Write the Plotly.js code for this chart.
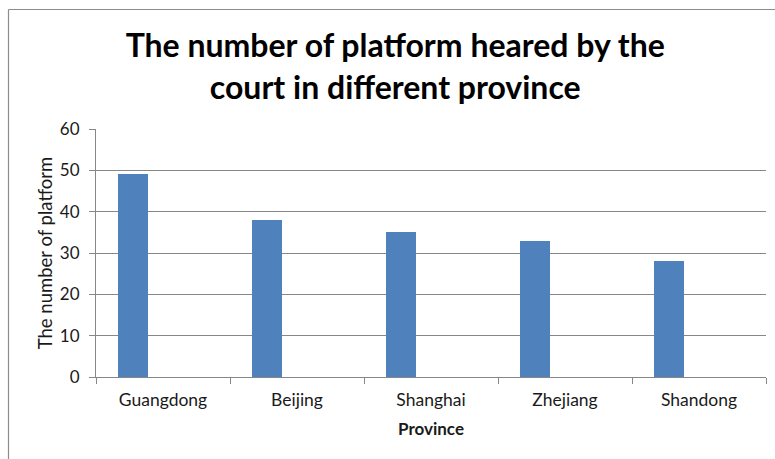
<!DOCTYPE html>
<html>
<head>
<meta charset="utf-8">
<script src="https://cdn.plot.ly/plotly-3.0.1.min.js"></script>
<style>
  html, body { margin: 0; padding: 0; background: #ffffff; }
  #chart { width: 775px; height: 459px; }
</style>
</head>
<body>
<div id="chart"></div>
<script>
const provinces = ["Guangdong", "Beijing", "Shanghai", "Zhejiang", "Shandong"];
const platformCounts = [49, 38, 35, 33, 28];
const yTickValues = [0, 10, 20, 30, 40, 50, 60];

const W = 775, H = 459;
const margin = { l: 96, r: 9, t: 129, b: 82 };
const pw = W - margin.l - margin.r;
const ph = H - margin.t - margin.b;
const px2x = p => (p - margin.l) / pw;
const py2y = p => (H - margin.b - p) / ph;

const trace = {
  type: "bar",
  x: provinces,
  y: platformCounts,
  width: 0.2222,
  offset: -0.3333,
  marker: { color: "#4F81BD", line: { width: 0 } },
  hoverinfo: "x+y"
};

const gridColor = "#878787";
const font = "Lato, 'Open Sans', sans-serif";

const layout = {
  width: W,
  height: H,
  margin: margin,
  paper_bgcolor: "#ffffff",
  plot_bgcolor: "#ffffff",
  showlegend: false,
  bargap: 0,
  title: {
    text: "The number of platform heared by the<br>court in different province",
    font: { family: font, size: 32, color: "#000000", weight: "bold" },
    x: 0.51,
    xanchor: "center",
    y: 1 - 57 / H,
    yanchor: "bottom",
    yref: "container"
  },
  xaxis: {
    type: "category",
    range: [-0.5, 4.5],
    showgrid: false,
    showline: true,
    linecolor: gridColor,
    linewidth: 1,
    ticks: "outside",
    tickson: "boundaries",
    ticklen: 6,
    tickcolor: gridColor,
    ticklabelstandoff: 7,
    tickfont: { family: font, size: 17.5, color: "#1a1a1a" },
    title: {
      text: "Province",
      font: { family: font, size: 17, color: "#1a1a1a", weight: "bold" },
      standoff: 14
    },
    fixedrange: true
  },
  yaxis: {
    range: [0, 60],
    tickvals: yTickValues,
    showgrid: true,
    gridcolor: gridColor,
    gridwidth: 1,
    zeroline: false,
    showline: true,
    linecolor: gridColor,
    linewidth: 1,
    ticks: "outside",
    ticklen: 6,
    tickcolor: gridColor,
    ticklabelstandoff: 6,
    tickfont: { family: font, size: 17, color: "#1a1a1a" },
    title: {
      text: "The number of platform",
      font: { family: font, size: 18.5, color: "#1a1a1a" },
      standoff: 2
    },
    fixedrange: true
  },
  shapes: [
    {
      type: "line", xref: "paper", yref: "paper",
      x0: px2x(8.5), x1: px2x(8.5), y0: py2y(H + 5), y1: py2y(9.5),
      line: { color: "#8c8c8c", width: 1.2 }
    },
    {
      type: "line", xref: "paper", yref: "paper",
      x0: px2x(8.5), x1: px2x(W + 5), y0: py2y(9.5), y1: py2y(9.5),
      line: { color: "#8c8c8c", width: 1.2 }
    }
  ]
};

Plotly.newPlot("chart", [trace], layout, { displayModeBar: false, staticPlot: true });
</script>
</body>
</html>
